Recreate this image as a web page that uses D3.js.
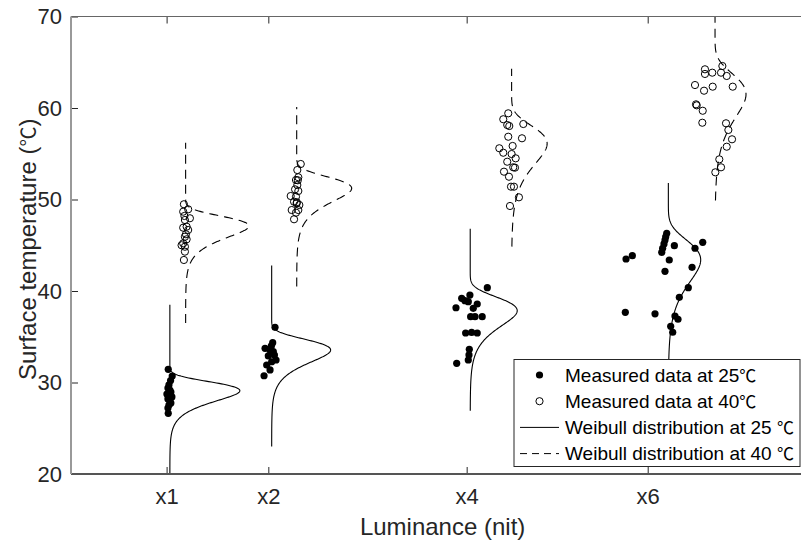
<!DOCTYPE html>
<html>
<head>
<meta charset="utf-8">
<script src="https://cdn.jsdelivr.net/npm/d3@7"></script>
<style>
  body { margin: 0; background: #fff; }
  svg { display: block; font-family: "Liberation Sans", Arial, sans-serif; }
  .cjk { font-family: "Noto Sans CJK SC", sans-serif; }
</style>
</head>
<body>
<div id="chart"></div>
<script>
// tick positions on the x axis and their labels
const xTickPos = [1, 2, 3.95, 5.73]
const xTickLabels = ['x1', 'x2', 'x4', 'x6']
const yTicks = [20, 30, 40, 50, 60, 70]

// measured data [x position, temperature]
const x1_25 = [[1.016,31.44],[1.055,30.71],[1.039,30.22],[1.023,29.73],[1.013,29.40],[1.032,29.18],[1.042,28.96],[1.003,28.74],[1.023,28.52],[1.052,28.42],[1.013,28.20],[1.032,27.98],[1.042,27.76],[1.023,27.54],[1.013,27.21],[1.016,26.63]]
const x1_40 = [[1.170,49.48],[1.212,48.93],[1.163,48.67],[1.175,48.2],[1.229,47.95],[1.180,47.76],[1.197,47.03],[1.163,46.92],[1.212,46.67],[1.19,46.2],[1.180,45.93],[1.197,45.65],[1.163,45.21],[1.147,45.0],[1.180,44.84],[1.180,44.30],[1.170,43.39]]
const x2_25 = [[2.066,36.03],[2.043,34.35],[2.03,34.0],[1.968,33.74],[2.017,33.55],[2.049,33.37],[2.06,33.0],[2.000,32.90],[2.076,32.46],[2.033,32.27],[1.984,31.91],[2.017,31.37],[1.958,30.74]]
const x2_40 = [[2.319,53.88],[2.285,53.22],[2.295,52.43],[2.272,52.13],[2.29,52.1],[2.285,51.58],[2.263,51.11],[2.295,50.93],[2.220,50.38],[2.272,50.31],[2.253,49.76],[2.28,49.7],[2.279,49.58],[2.305,49.40],[2.230,48.85],[2.295,48.85],[2.272,48.56],[2.253,47.84]]
const x4_25 = [[4.153,40.36],[3.982,39.56],[3.901,39.20],[3.933,38.94],[3.966,38.83],[4.054,38.58],[3.845,38.17],[4.015,38.11],[3.989,37.19],[4.032,37.19],[4.103,37.19],[3.940,35.41],[3.999,35.47],[4.054,35.41],[3.976,33.63],[3.973,33.01],[3.966,32.46],[3.852,32.10]]
const x4_40 = [[4.359,59.42],[4.310,58.77],[4.507,58.25],[4.349,58.14],[4.369,58.03],[4.359,56.86],[4.494,56.69],[4.402,55.85],[4.271,55.60],[4.310,55.11],[4.392,54.97],[4.432,54.50],[4.349,54.13],[4.408,53.52],[4.425,53.48],[4.317,53.04],[4.366,52.49],[4.386,51.40],[4.415,51.40],[4.464,50.24],[4.376,49.29]]
const x6_25 = [[5.917,46.31],[5.907,45.93],[5.900,45.57],[5.890,45.14],[5.992,44.95],[5.877,44.67],[5.868,44.23],[6.271,45.32],[6.195,44.67],[5.579,43.86],[5.517,43.50],[5.942,43.39],[6.166,42.59],[5.900,42.15],[6.129,40.36],[6.041,39.31],[5.510,37.67],[5.802,37.51],[5.998,37.27],[6.028,36.91],[5.956,36.14],[5.976,35.49]]
const x6_40 = [[6.464,64.59],[6.293,64.23],[6.293,63.72],[6.365,63.86],[6.451,63.86],[6.507,63.50],[6.195,62.51],[6.284,61.89],[6.369,62.33],[6.566,62.33],[6.205,60.40],[6.212,60.29],[6.271,59.70],[6.267,58.39],[6.500,58.33],[6.523,57.60],[6.559,56.58],[6.507,55.77],[6.434,54.39],[6.451,53.52],[6.395,52.97]]

// fitted Weibull curves: baseline x, temperature range, scale (lambda), shape (k)
const wb25 = [
  { base: 1.032, lo: 20.0, hi: 38.5, scale: 29.14, shape: 27.7 },
  { base: 2.033, lo: 23.0, hi: 42.8, scale: 33.60, shape: 26.9 },
  { base: 3.985, lo: 26.9, hi: 46.8, scale: 37.92, shape: 24.2 },
  { base: 5.933, lo: 30.5, hi: 51.8, scale: 43.52, shape: 19.1 }
]
const wb40 = [
  { base: 1.187, lo: 36.5, hi: 56.2, scale: 47.13, shape: 40.5 },
  { base: 2.279, lo: 40.5, hi: 60.1, scale: 51.26, shape: 38.3 },
  { base: 4.392, lo: 44.85, hi: 64.3, scale: 56.18, shape: 27.1 },
  { base: 6.392, lo: 49.9, hi: 70.0, scale: 61.59, shape: 25.9 }
]
const densityWidth = 1.967 // x units per unit of density

// legend: text before the degree sign, then the sign
const legendItems = [['Measured data at 25', '\u2103'], ['Measured data at 40', '\u2103'],
  ['Weibull distribution at 25 ', '\u2103'], ['Weibull distribution at 40 ', '\u2103']]

const fullWidth = 801, fullHeight = 542
const margin = { top: 16.5, right: -13, bottom: 68, left: 71 }
const width = fullWidth - margin.left - margin.right
const height = fullHeight - margin.top - margin.bottom

const svg = d3.select('#chart').append('svg')
  .attr('width', fullWidth).attr('height', fullHeight)

const g = svg.append('g')
  .attr('transform', 'translate(' + margin.left + ',' + margin.top + ')')

const x = d3.scaleLinear().domain([0.06, 7.365]).range([0, width])
const y = d3.scaleLinear().domain([20, 70]).range([height, 0])

g.append('clipPath').attr('id', 'clip')
  .append('rect').attr('width', width).attr('height', height)

function weibull(t, lam, k) {
  return (k / lam) * Math.pow(t / lam, k - 1) * Math.exp(-Math.pow(t / lam, k))
}

function curvePoints(c) {
  const pts = []
  for (let t = c.lo; t <= c.hi + 1e-9; t += 0.05) {
    pts.push([c.base + densityWidth * weibull(t, c.scale, c.shape), t])
  }
  return pts
}

const line = d3.line().x(d => x(d[0])).y(d => y(d[1]))

const plot = g.append('g').attr('clip-path', 'url(#clip)')

plot.selectAll('.wb25').data(wb25).enter().append('path')
  .attr('class', 'wb25')
  .attr('d', d => line(curvePoints(d)))
  .attr('fill', 'none').attr('stroke', '#000').attr('stroke-width', 1.1)

plot.selectAll('.wb40').data(wb40).enter().append('path')
  .attr('class', 'wb40')
  .attr('d', d => line(curvePoints(d)))
  .attr('fill', 'none').attr('stroke', '#000').attr('stroke-width', 1.1)
  .attr('stroke-dasharray', '9,6')

const filled = [].concat(x1_25, x2_25, x4_25, x6_25)
const open = [].concat(x1_40, x2_40, x4_40, x6_40)

plot.selectAll('.p25').data(filled).enter().append('circle')
  .attr('class', 'p25')
  .attr('cx', d => x(d[0])).attr('cy', d => y(d[1]))
  .attr('r', 3.6).attr('fill', '#000')

plot.selectAll('.p40').data(open).enter().append('circle')
  .attr('class', 'p40')
  .attr('cx', d => x(d[0])).attr('cy', d => y(d[1]))
  .attr('r', 3.6).attr('fill', 'none').attr('stroke', '#000').attr('stroke-width', 1)

// axes
const xAxis = g.append('g')
  .attr('transform', 'translate(0,' + height + ')')
  .call(d3.axisBottom(x).tickValues(xTickPos).tickFormat((d, i) => xTickLabels[i])
    .tickSizeInner(-7).tickSizeOuter(0).tickPadding(14))
xAxis.select('.domain').remove()

const xTop = g.append('g')
  .call(d3.axisTop(x).tickValues(xTickPos).tickFormat('')
    .tickSizeInner(-7).tickSizeOuter(0))
xTop.select('.domain').remove()

const yAxis = g.append('g')
  .call(d3.axisLeft(y).tickValues(yTicks).tickSizeInner(-7).tickSizeOuter(0).tickPadding(9))
yAxis.select('.domain').remove()

g.selectAll('.tick line').attr('stroke', '#262626')
g.selectAll('.tick text').attr('fill', '#262626').style('font-size', '22px')

// box
g.append('line').attr('x1', 0).attr('x2', width).attr('y1', 0).attr('y2', 0)
  .attr('stroke', '#666').attr('stroke-width', 1)
g.append('line').attr('x1', 0).attr('x2', width).attr('y1', height).attr('y2', height)
  .attr('stroke', '#555').attr('stroke-width', 2)
g.append('line').attr('x1', 0).attr('x2', 0).attr('y1', 0).attr('y2', height)
  .attr('stroke', '#999').attr('stroke-width', 2)

// axis labels
g.append('text')
  .attr('x', x(1) + 276).attr('y', height + 61)
  .attr('text-anchor', 'middle').attr('fill', '#262626')
  .style('font-size', '24px')
  .text('Luminance (nit)')

const yLabel = g.append('text')
  .attr('transform', 'translate(' + (36 - margin.left) + ',' + (height / 2 + 4) + ') rotate(-90)')
  .attr('text-anchor', 'middle').attr('fill', '#262626')
  .style('font-size', '24px')
yLabel.append('tspan').text('Surface temperature (')
yLabel.append('tspan').attr('class', 'cjk').style('font-size', '20px').text('\u2103')
yLabel.append('tspan').text(')')

// legend
const lg = svg.append('g').attr('transform', 'translate(514,359.5)')
lg.append('rect').attr('width', 286).attr('height', 107)
  .attr('fill', '#fff').attr('stroke', '#262626').attr('stroke-width', 1)

const rowY = d => 15.5 + d * 26.2
const lt = lg.selectAll('.ltext').data(legendItems).enter().append('text')
  .attr('class', 'ltext')
  .attr('x', 51).attr('y', (d, i) => rowY(i))
  .attr('dy', '0.35em').attr('fill', '#000')
  .style('font-size', '19px')
lt.append('tspan').text(d => d[0])
lt.append('tspan').attr('class', 'cjk').style('font-size', '17px').text(d => d[1])

lg.append('circle').attr('cx', 25.5).attr('cy', rowY(0)).attr('r', 3.6).attr('fill', '#000')
lg.append('circle').attr('cx', 25.5).attr('cy', rowY(1)).attr('r', 3.6)
  .attr('fill', 'none').attr('stroke', '#000')
lg.append('line').attr('x1', 6).attr('x2', 45).attr('y1', rowY(2)).attr('y2', rowY(2))
  .attr('stroke', '#000').attr('stroke-width', 1)
lg.append('line').attr('x1', 6).attr('x2', 45).attr('y1', rowY(3)).attr('y2', rowY(3))
  .attr('stroke', '#000').attr('stroke-width', 1).attr('stroke-dasharray', '7,5')
</script>
</body>
</html>
